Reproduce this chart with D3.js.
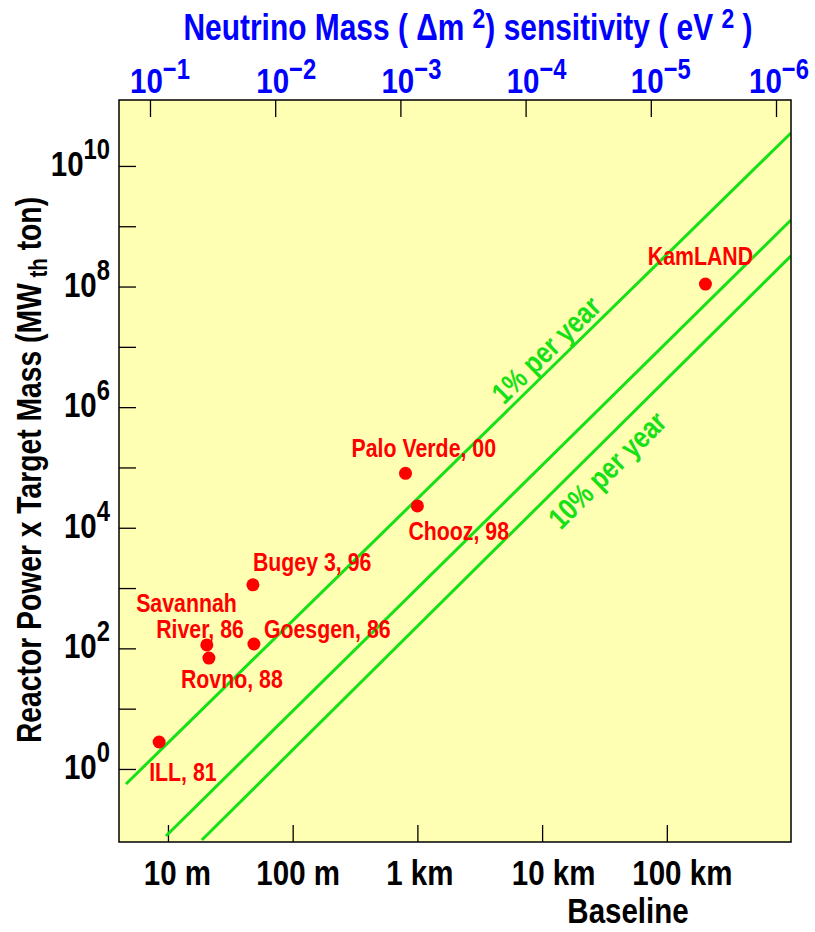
<!DOCTYPE html>
<html>
<head>
<meta charset="utf-8">
<script src="https://cdn.jsdelivr.net/npm/d3@7/dist/d3.min.js"></script>
<style>
  html, body { margin: 0; padding: 0; background: #ffffff; }
  svg text {
    font-family: "Liberation Sans", Arial, Helvetica, sans-serif;
    font-weight: bold;
  }
</style>
</head>
<body>
<svg id="chart" width="815" height="932"></svg>
<script>
// Reactor neutrino experiments: baseline (m) and reactor power x target mass (MW_th ton)
const experiments = ["ILL, 81", "Savannah\nRiver, 86", "Rovno, 88", "Goesgen, 86",
                     "Bugey 3, 96", "Palo Verde, 00", "Chooz, 98", "KamLAND"];
const baselines   = [8.5, 20.5, 21.3, 48.9, 48, 803, 1000, 2.04e5];
const exposures   = [2.8, 114, 69, 118, 1130, 8.0e4, 2.3e4, 1.1e8];

// Constant-sensitivity lines (start / end in baseline, exposure)
const sensLineNames  = ["1% per year", "", "10% per year"];
const sensStartBase  = [4.61, 9.64, 18.7];
const sensStartExpo  = [0.564, 0.0774, 0.0665];
const sensEndBase    = [9.9e5, 9.9e5, 9.9e5];
const sensEndExpo    = [3.52e10, 1.27e9, 3.22e8];

// Axis ticks
const baselineTicks      = [10, 100, 1000, 1e4, 1e5];
const baselineTickLabels = ["10 m", "100 m", "1 km", "10 km", "100 km"];
const exposureTicks      = [1, 1e1, 1e2, 1e3, 1e4, 1e5, 1e6, 1e7, 1e8, 1e9, 1e10];
const exposureLabelTicks = [1, 1e2, 1e4, 1e6, 1e8, 1e10];
const exposureLabelExps  = ["0", "2", "4", "6", "8", "10"];
const dm2Ticks           = [1e-1, 1e-2, 1e-3, 1e-4, 1e-5, 1e-6];
const dm2TickExps        = ["\u22121", "\u22122", "\u22123", "\u22124", "\u22125", "\u22126"];

// Axis ranges
const baselineDomain = [4.05, 9.9e5];
const dm2Domain      = [0.1768, 7.59e-7];
const exposureDomain = [0.0615, 1.24e11];

// ---- layout ----
const plot = { left: 119, top: 100, right: 791, bottom: 842 };
const RED = "#ff0000", GREEN = "#16e016", BLUE = "#0000ff", YELLOW = "#ffffb3";
const NARROW = 0.82;   // horizontal squeeze for the condensed lettering

// horizontal nudge of each tick label
const baselineLabelShift = [9, 5, 2, 11, 15];
const dm2LabelShift      = [10, 11, 11, 11, 10, 3];

// label placement relative to each marker
const labelLayout = [
  { anchor: "start",  offsets: [[-10, 39]] },
  { anchor: "end",    offsets: [[30, -33], [37, -7]] },
  { anchor: "start",  offsets: [[-28, 30]] },
  { anchor: "start",  offsets: [[10, -6]] },
  { anchor: "start",  offsets: [[0, -14]] },
  { anchor: "start",  offsets: [[-54, -16]] },
  { anchor: "start",  offsets: [[-9, 34]] },
  { anchor: "middle", offsets: [[-5, -19]] }
];
// where the sensitivity labels sit along their line (fraction, offset normal to line)
const sensLabelLayout = [
  { t: 0.649, off: -6 },
  null,
  { t: 0.661, off: 33 }
];

const svg = d3.select("#chart");

const x = d3.scaleLog().domain(baselineDomain).range([plot.left, plot.right]);
const xTop = d3.scaleLog().domain(dm2Domain).range([plot.left, plot.right]);
const y = d3.scaleLog().domain(exposureDomain).range([plot.bottom, plot.top]);

// condensed text placed at (px, py), optionally rotated
function ctext(parent, px, py, opts = {}) {
  const rot = opts.rotate ? ` rotate(${opts.rotate})` : "";
  return parent.append("text")
    .attr("transform", `translate(${px},${py})${rot} scale(${NARROW},1)`)
    .attr("text-anchor", opts.anchor || "start")
    .attr("fill", opts.fill || "#000")
    .style("font-size", (opts.size || 26) + "px");
}

// plot background
svg.append("rect")
  .attr("x", plot.left).attr("y", plot.top)
  .attr("width", plot.right - plot.left).attr("height", plot.bottom - plot.top)
  .attr("fill", YELLOW);

svg.append("clipPath").attr("id", "plotClip")
  .append("rect")
  .attr("x", plot.left).attr("y", plot.top)
  .attr("width", plot.right - plot.left).attr("height", plot.bottom - plot.top);

// ---- axes (ticks pointing inward) ----
const TICK = 17;
const gBottom = svg.append("g").attr("transform", `translate(0,${plot.bottom})`)
  .call(d3.axisBottom(x).tickValues(baselineTicks).tickSize(-TICK)
        .tickFormat((d, i) => baselineTickLabels[i]));
gBottom.select(".domain").remove();
gBottom.selectAll(".tick line").attr("stroke", "#000").attr("stroke-width", 1.3);
gBottom.selectAll(".tick text")
  .attr("x", 0).attr("y", 0).attr("dy", 0)
  .attr("transform", (d, i) => `translate(${baselineLabelShift[i]},43) scale(${NARROW},1)`)
  .attr("fill", "#000").style("font-size", "36px");

const gLeft = svg.append("g").attr("transform", `translate(${plot.left},0)`)
  .call(d3.axisLeft(y).tickValues(exposureTicks).tickSize(-TICK).tickFormat(""));
gLeft.select(".domain").remove();
gLeft.selectAll(".tick line").attr("stroke", "#000").attr("stroke-width", 1.3);

const gTop = svg.append("g").attr("transform", `translate(0,${plot.top})`)
  .call(d3.axisTop(xTop).tickValues(dm2Ticks).tickSize(-TICK).tickFormat(""));
gTop.select(".domain").remove();
gTop.selectAll(".tick line").attr("stroke", "#000").attr("stroke-width", 1.3);

// left tick labels: 10^n
exposureLabelTicks.forEach((v, i) => {
  const t = ctext(svg, 110, y(v) + 10, { anchor: "end", size: 36 });
  t.append("tspan").text("10");
  t.append("tspan").style("font-size", "29px").attr("dy", -17).text(exposureLabelExps[i]);
});

// top tick labels: 10^-n
dm2Ticks.forEach((v, i) => {
  const t = ctext(svg, xTop(v) + dm2LabelShift[i], 93, { anchor: "middle", size: 36, fill: BLUE });
  t.append("tspan").text("10");
  t.append("tspan").style("font-size", "29px").attr("dy", -14).text(dm2TickExps[i]);
});

// ---- sensitivity lines ----
const gLines = svg.append("g").attr("clip-path", "url(#plotClip)");
sensLineNames.forEach((name, i) => {
  const p0 = [x(sensStartBase[i]), y(sensStartExpo[i])];
  const p1 = [x(sensEndBase[i]), y(sensEndExpo[i])];
  gLines.append("path")
    .attr("d", d3.line()([p0, p1]))
    .attr("stroke", GREEN).attr("stroke-width", 3).attr("fill", "none");
  const lay = sensLabelLayout[i];
  if (name && lay) {
    const px = p0[0] + (p1[0] - p0[0]) * lay.t;
    const py = p0[1] + (p1[1] - p0[1]) * lay.t;
    const ang = Math.atan2(p1[1] - p0[1], p1[0] - p0[0]) * 180 / Math.PI;
    // shift normal to the line, then write along it
    const rad = ang * Math.PI / 180;
    const nx = -Math.sin(rad) * lay.off, ny = Math.cos(rad) * lay.off;
    ctext(svg, px + nx, py + ny, { rotate: ang, anchor: "middle", size: 30, fill: GREEN })
      .text(name);
  }
});

// ---- experiments ----
const gPts = svg.append("g");
experiments.forEach((name, i) => {
  const cx = x(baselines[i]), cy = y(exposures[i]);
  gPts.append("circle").attr("cx", cx).attr("cy", cy).attr("r", 6.5).attr("fill", RED);
  const lay = labelLayout[i];
  name.split("\n").forEach((line, j) => {
    ctext(gPts, cx + lay.offsets[j][0], cy + lay.offsets[j][1],
          { anchor: lay.anchor, size: 26, fill: RED })
      .text(line);
  });
});

// frame
svg.append("rect")
  .attr("x", plot.left).attr("y", plot.top)
  .attr("width", plot.right - plot.left).attr("height", plot.bottom - plot.top)
  .attr("fill", "none").attr("stroke", "#000").attr("stroke-width", 1.5);

// ---- titles ----
const title = ctext(svg, 468, 40, { anchor: "middle", size: 36.5, fill: BLUE });
title.append("tspan").text("Neutrino Mass ( \u0394m ");
title.append("tspan").attr("dy", -12).style("font-size", "28px").text("2");
title.append("tspan").attr("dy", 12).text(") sensitivity ( eV ");
title.append("tspan").attr("dy", -12).style("font-size", "28px").text("2");
title.append("tspan").attr("dy", 12).text(" )");

const yTitle = ctext(svg, 41, 470, { rotate: -90, anchor: "middle", size: 34.5 });
yTitle.append("tspan").text("Reactor Power x Target Mass (MW");
yTitle.append("tspan").attr("dy", 6).style("font-size", "25px").text(" th");
yTitle.append("tspan").attr("dy", -6).text(" ton)");

ctext(svg, 628, 923, { anchor: "middle", size: 36 }).text("Baseline");
</script>
</body>
</html>
